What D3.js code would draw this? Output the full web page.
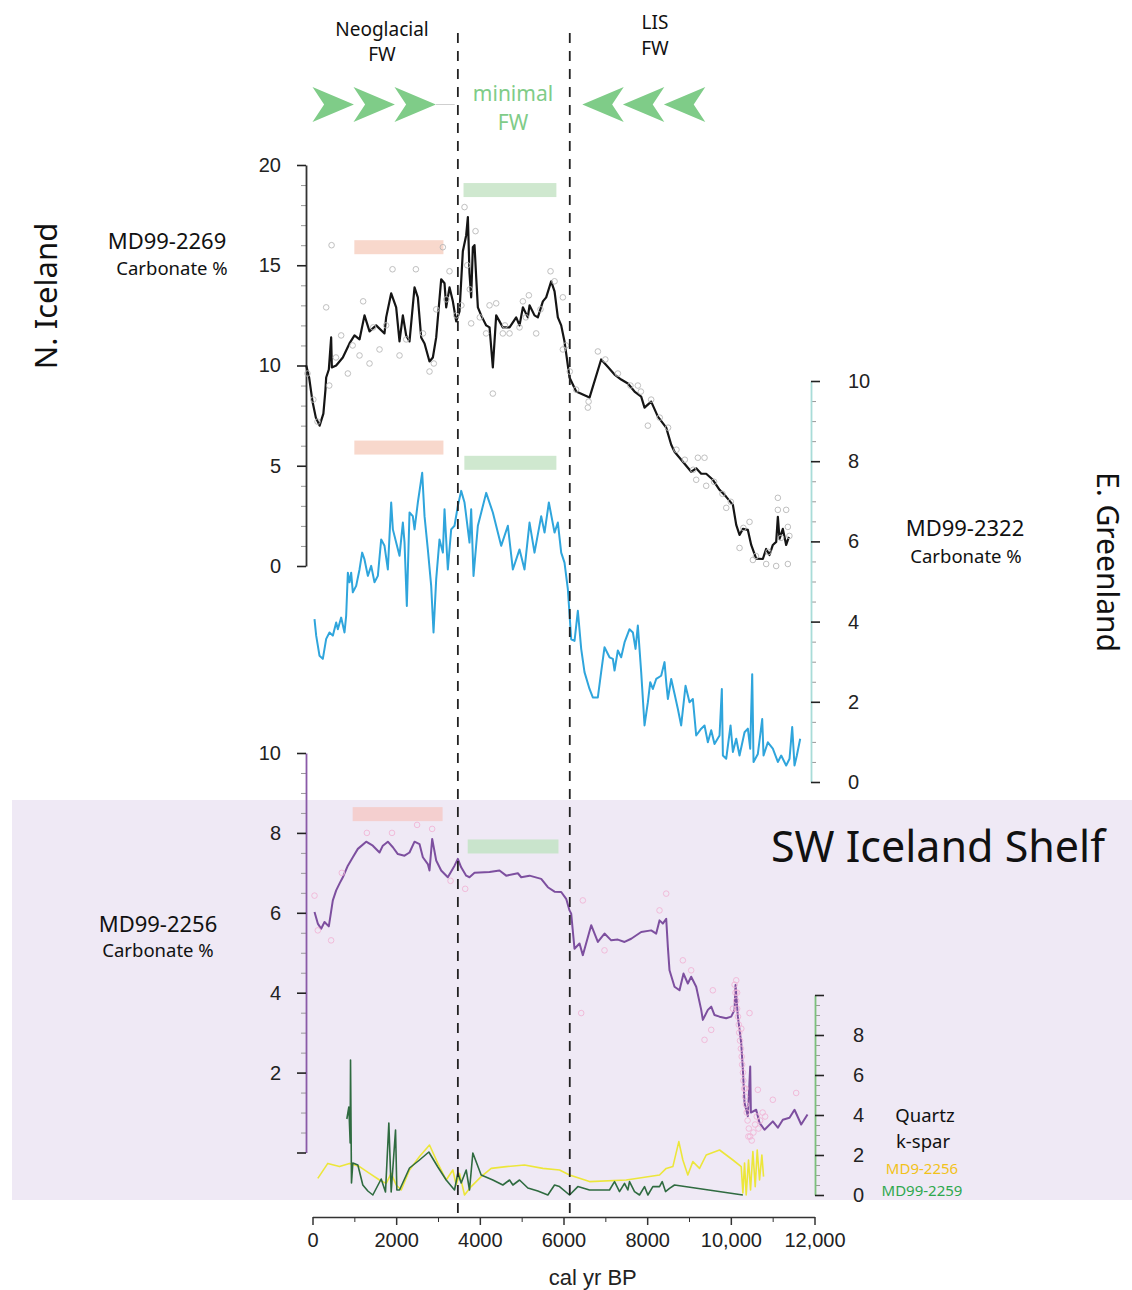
<!DOCTYPE html>
<html><head><meta charset="utf-8">
<script src="https://cdn.jsdelivr.net/npm/d3@7"></script>
<style>body{margin:0;background:#fff}svg{display:block}</style>
</head><body>
<svg id="chart" width="1132" height="1290"></svg>
<script>
// ---- Records: [cal yr BP, value] ----
const nIcelandCarb = [[-150,10.0],[-80,9.4],[0,8.2],[80,7.4],[170,7.0],[260,7.6],[310,8.8],[327,9.4],[390,9.8],[446,11.4],[462,9.9],[566,10.0],[725,10.4],[884,11.1],[1004,11.5],[1124,11.3],[1243,12.5],[1363,11.7],[1522,12.0],[1721,11.6],[1761,12.4],[1881,13.6],[2000,12.9],[2080,11.2],[2160,12.5],[2239,11.5],[2319,11.2],[2439,13.9],[2518,13.4],[2598,11.4],[2678,11.1],[2797,10.2],[2877,10.4],[2957,11.4],[3076,14.3],[3156,14.1],[3196,12.9],[3275,13.9],[3355,13.2],[3435,12.2],[3514,12.7],[3594,15.7],[3674,16.5],[3714,17.4],[3753,14.6],[3793,13.4],[3833,15.9],[3873,16.0],[3913,14.4],[3953,12.9],[4032,12.5],[4152,12.0],[4232,11.9],[4311,9.9],[4391,12.5],[4471,12.2],[4550,11.9],[4710,11.9],[4869,12.4],[4949,12.0],[5029,12.9],[5148,12.4],[5188,13.0],[5307,12.5],[5387,12.4],[5507,13.2],[5586,13.4],[5706,14.2],[5786,13.7],[5865,12.4],[5945,12.0],[6024,11.2],[6144,9.4],[6303,8.7],[6622,8.4],[6900,10.3],[7052,9.95],[7220,9.55],[7379,9.3],[7539,9.1],[7698,8.7],[7857,8.45],[7937,7.9],[8096,8.2],[8256,7.45],[8455,6.9],[8575,6.05],[8654,5.7],[8853,5.2],[9053,4.7],[9172,4.87],[9292,4.6],[9411,4.6],[9571,4.3],[9730,3.8],[9890,3.45],[10049,3.05],[10129,2.05],[10208,1.55],[10288,1.85],[10407,1.8],[10487,1.05],[10606,0.37],[10765,0.35],[10845,0.85],[10925,0.55],[11004,1.05],[11084,1.2],[11124,2.45],[11164,1.35],[11243,1.85],[11323,1.05],[11387,1.45]];

const nIcelandSamples = [[456,16.0],[327,12.9],[1211,13.2],[1363,10.1],[1913,14.8],[2471,14.8],[3116,15.9],[3275,14.7],[3634,17.9],[3897,16.7],[4311,8.6],[5690,14.7],[5786,14.2],[3793,12.1],[5029,13.2],[5172,13.5],[4550,11.6],[4710,11.6],[845,9.6],[685,11.5],[1124,10.5],[1602,10.8],[2080,10.5],[2797,9.7],[2957,12.8],[3435,12.5],[4232,13.0],[4391,13.1],[4949,11.9],[5347,11.6],[5985,10.8],[5985,13.4],[6822,10.7],[6582,7.9],[8017,7.0],[7777,9.0],[8096,8.3],[9212,5.4],[9371,5.4],[9172,4.3],[9411,4.0],[9890,2.9],[10208,0.9],[10447,2.2],[11124,3.4],[11124,2.8],[11323,2.8],[11363,1.95],[11363,0.1],[11084,0.0],[10527,0.3],[10845,0.1],[-120,9.6],[20,8.3],[120,7.2],[400,9.0],[560,10.4],[960,11.0],[1450,11.9],[1760,12.0],[2240,11.3],[2640,11.6],[2900,10.1],[3200,13.3],[3560,13.0],[3700,15.0],[3760,13.8],[4000,12.4],[4150,11.6],[4600,12.0],[5100,12.4],[5450,12.8],[6060,11.0],[6150,9.7],[6300,8.8],[6600,8.2],[7000,10.3],[7300,9.6],[7600,9.0],[7850,8.7],[8300,7.4],[8500,6.9],[8700,5.8],[8900,5.3],[9100,4.8],[9600,4.2],[9800,3.6],[10000,3.2],[10300,1.9],[10600,0.5],[10900,0.7],[11200,1.4],[11400,1.5]];

const eGreenlandCarb = [[48,4.06],[88,3.65],[167,3.15],[247,3.07],[327,3.57],[406,3.73],[486,3.65],[566,3.98],[606,3.81],[685,4.1],[765,3.73],[805,4.15],[845,5.22],[885,4.98],[924,5.22],[964,4.73],[1044,4.89],[1124,5.3],[1187,5.72],[1243,5.55],[1323,5.14],[1403,5.39],[1482,4.98],[1562,5.14],[1642,6.05],[1721,5.89],[1801,5.3],[1881,6.97],[1921,6.3],[2000,5.97],[2080,5.64],[2160,6.47],[2200,5.97],[2255,4.39],[2319,6.72],[2398,6.63],[2439,6.3],[2518,6.97],[2622,7.71],[2678,6.63],[2757,5.8],[2837,4.89],[2893,3.73],[2957,5.06],[3036,6.05],[3116,5.72],[3156,6.8],[3235,5.3],[3315,6.3],[3395,6.39],[3475,6.89],[3554,7.26],[3634,6.97],[3753,5.97],[3793,6.8],[3849,5.14],[3953,6.39],[4152,7.21],[4311,6.72],[4510,5.89],[4670,6.39],[4789,5.3],[4949,5.8],[5068,5.3],[5188,6.47],[5307,5.72],[5467,6.63],[5547,6.22],[5650,6.97],[5786,6.22],[5865,6.47],[5945,5.72],[6024,5.47],[6104,4.81],[6184,3.56],[6264,3.52],[6343,4.27],[6423,3.32],[6502,2.74],[6622,2.32],[6701,2.11],[6821,2.11],[6900,2.74],[6980,3.36],[7100,3.11],[7180,3.07],[7220,2.78],[7299,3.28],[7379,3.11],[7459,3.48],[7578,3.81],[7658,3.73],[7722,3.32],[7777,3.9],[7857,2.74],[7937,1.41],[8017,1.99],[8073,2.49],[8136,2.32],[8216,2.57],[8335,2.65],[8415,2.99],[8455,2.49],[8495,2.07],[8575,2.57],[8654,2.2],[8734,1.82],[8813,1.41],[8917,2.4],[9012,1.99],[9092,2.07],[9172,1.16],[9292,1.33],[9371,1.41],[9451,0.99],[9531,1.29],[9610,0.95],[9730,1.16],[9785,2.32],[9810,0.66],[9890,0.58],[9993,1.41],[10049,0.75],[10129,1.08],[10208,0.66],[10328,1.24],[10407,1.33],[10463,0.83],[10511,2.69],[10543,0.5],[10646,0.7],[10750,1.57],[10782,0.66],[10885,0.99],[11004,0.83],[11124,0.5],[11204,0.66],[11323,0.41],[11403,0.58],[11467,1.37],[11522,0.41],[11578,0.66],[11658,1.08]];

const swIcelandCarb = [[48,6.02],[127,5.73],[207,5.6],[287,5.77],[390,5.66],[486,6.31],[566,6.56],[645,6.73],[725,6.89],[845,7.18],[964,7.39],[1084,7.6],[1283,7.78],[1442,7.68],[1602,7.51],[1681,7.68],[1801,7.78],[1921,7.64],[2040,7.47],[2200,7.43],[2319,7.51],[2439,7.78],[2558,7.72],[2638,7.39],[2757,7.22],[2797,7.06],[2861,7.85],[2957,7.31],[3076,7.06],[3235,6.89],[3395,7.18],[3474,7.35],[3554,7.14],[3674,6.93],[3753,6.89],[3873,7.0],[4231,7.02],[4470,7.06],[4630,6.93],[4909,6.99],[4989,6.89],[5188,6.93],[5467,6.85],[5626,6.64],[5786,6.53],[5945,6.52],[6064,6.35],[6144,6.06],[6184,5.98],[6263,5.1],[6383,5.23],[6462,4.94],[6662,5.69],[6821,5.27],[6980,5.48],[7140,5.31],[7299,5.33],[7459,5.27],[7618,5.35],[7857,5.52],[8096,5.56],[8216,5.48],[8295,5.81],[8375,5.73],[8455,5.85],[8495,5.14],[8534,4.56],[8654,4.15],[8773,4.06],[8869,4.48],[8972,4.23],[9052,4.4],[9172,4.15],[9292,3.57],[9331,3.32],[9451,3.57],[9531,3.65],[9610,3.44],[9730,3.4],[9889,3.36],[10009,3.4],[10089,3.57],[10113,4.19],[10168,3.4],[10248,2.74],[10288,2.07],[10328,1.24],[10407,0.91],[10463,2.15],[10479,1.0],[10606,1.07],[10686,0.74],[10805,0.57],[11004,0.78],[11124,0.62],[11243,0.82],[11403,0.87],[11522,1.07],[11682,0.7],[11833,0.95]];

const swIcelandSamples = [[48,6.43],[127,5.56],[445,5.31],[700,7.0],[1300,8.0],[1900,8.0],[2500,8.2],[2860,8.1],[3300,6.8],[3650,6.6],[6423,3.49],[6462,6.31],[6980,5.06],[8295,6.06],[8455,6.48],[8853,4.81],[9052,4.56],[9570,4.06],[9371,2.82],[9531,3.07],[10129,4.31],[10447,3.49],[10090,4.2],[10110,4.0],[10130,3.8],[10150,3.6],[10170,3.4],[10190,3.2],[10200,3.0],[10220,2.8],[10240,2.6],[10260,2.4],[10270,2.2],[10290,2.0],[10300,1.8],[10320,1.6],[10340,1.4],[10360,1.2],[10380,1.0],[10400,0.8],[10430,0.6],[10460,0.4],[10500,0.3],[10540,0.5],[10580,0.7],[10620,0.9],[10646,1.57],[10660,0.6],[10700,0.8],[10760,1.0],[10820,0.9],[11004,1.32],[11562,1.49],[10050,3.6],[10150,4.0],[10250,3.1],[10350,1.6],[10420,0.4]];

const quartzMD992259 = [[821,3.8],[869,4.4],[901,2.6],[909,6.75],[932,0.6],[964,1.6],[1084,1.5],[1203,0.5],[1323,0.2],[1442,0.0],[1642,0.8],[1745,0.15],[1825,3.6],[1881,0.15],[1985,3.25],[2016,0.25],[2080,0.25],[2319,1.35],[2558,1.75],[2781,2.15],[2996,1.4],[3196,0.75],[3395,0.25],[3474,1.1],[3554,0.6],[3674,1.25],[3753,0.25],[3833,2.1],[4032,1.0],[4311,0.75],[4550,0.5],[4710,0.75],[4790,0.5],[4949,0.75],[5148,0.35],[5387,0.2],[5626,0.0],[5786,0.5],[5905,0.42],[6144,0.0],[6343,0.42],[6622,0.25],[7100,0.25],[7220,0.67],[7339,0.17],[7459,0.58],[7538,0.25],[7578,0.67],[7698,0.17],[7817,0.0],[7937,0.42],[8017,0.0],[8136,0.42],[8295,0.42],[8359,0.67],[8439,0.17],[8534,0.33],[8654,0.5],[10288,0.0]];

const quartzMD992256 = [[127,0.83],[366,1.58],[645,1.42],[885,1.58],[1124,1.42],[1363,1.08],[1602,0.75],[1761,0.58],[1881,1.08],[2000,0.5],[2120,0.25],[2319,1.25],[2558,1.92],[2797,2.5],[2996,1.58],[3196,0.75],[3355,1.25],[3435,0.5],[3514,1.08],[3634,0.0],[3793,0.42],[4032,0.92],[4272,1.33],[4630,1.42],[5068,1.5],[5507,1.33],[5905,1.25],[6144,1.0],[6622,0.67],[7499,0.75],[8295,1.0],[8455,1.33],[8614,1.42],[8757,2.67],[8853,1.75],[8972,1.0],[9092,1.67],[9252,1.33],[9411,2.0],[9730,2.25],[10049,1.75],[10248,1.42],[10288,0.1],[10328,1.6],[10367,0.0],[10423,1.75],[10471,0.25],[10527,2.17],[10583,0.42],[10631,2.25],[10686,0.75],[10742,2.0],[10782,0.92]];

// Shaded intervals: [start yr, end yr, level]
const neoglacialBars = [[1000,3130,15.9],[1000,3130,8.34],[960,3110,8.47]];
const minimalBars = [[3610,5830,18.75],[3630,5830,7.96],[3710,5880,7.66]];
// Boundaries between freshwater regimes
const boundaries = [3475, 6150];
const xTicksMajor = [0,2000,4000,6000,8000,10000,12000];
const xTicksMinor = [1000,3000,5000,7000,9000,11000];

// ---- Scales ----
const svg = d3.select('#chart');
const x = d3.scaleLinear().domain([0,12000]).range([312.5,814.5]);
const yTop = d3.scaleLinear().domain([0,20]).range([566,165]);
const yMid = d3.scaleLinear().domain([0,10]).range([782,381]);
const yBot = d3.scaleLinear().domain([0,10]).range([1152.5,753]);
const yQtz = d3.scaleLinear().domain([0,10]).range([1195,995]);

const FONT = "'Liberation Sans', Arial, sans-serif";
const LFONT = "'Noto Sans', 'Open Sans', sans-serif";

// Shelf background band
svg.append('rect').attr('x',12).attr('y',800).attr('width',1120).attr('height',400).attr('fill','#efe9f5');

// ---- Axes ----
function vAxis(scale, side, xPos, majors, minors, lineColor, labelled, pad) {
  const mk = side === 'left' ? d3.axisLeft : d3.axisRight;
  const gMin = svg.append('g').attr('transform',`translate(${xPos},0)`)
    .call(mk(scale).tickValues(minors).tickSize(5).tickFormat(''));
  gMin.select('.domain').remove();
  gMin.selectAll('line').attr('stroke','#999').attr('stroke-width',1);
  const g = svg.append('g').attr('transform',`translate(${xPos},0)`)
    .call(mk(scale).tickValues(majors).tickSize(9).tickSizeOuter(0).tickPadding(pad)
      .tickFormat(d => labelled.includes(d) ? d : ''));
  g.select('.domain').attr('stroke',lineColor).attr('stroke-width',1.8);
  g.selectAll('line').attr('stroke','#222').attr('stroke-width',1.6);
  g.selectAll('text').attr('font-family',FONT).attr('font-size',20).attr('fill','#222');
  return g;
}
vAxis(yTop,'left',306,[0,5,10,15,20],d3.range(0,20,1).filter(d=>d%5),'#333',[0,5,10,15,20],16);
vAxis(yMid,'right',811,[0,2,4,6,8,10],d3.range(0.5,10,0.5).filter(d=>d%2),'#a8dcd8',[0,2,4,6,8,10],28);
vAxis(yBot,'left',306,[0,2,4,6,8,10],d3.range(0.5,10,0.5).filter(d=>d%2),'#8a5aa8',[2,4,6,8,10],16);
vAxis(yQtz,'right',815,[0,2,4,6,8,10],d3.range(0.5,10,0.5).filter(d=>d%2),'#7cbf7c',[0,2,4,6,8],29);

// Time axis
const gxm = svg.append('g').attr('transform','translate(0,1217)')
  .call(d3.axisBottom(x).tickValues(xTicksMinor).tickSize(5).tickFormat(''));
gxm.select('.domain').remove();
gxm.selectAll('line').attr('stroke','#333');
const gx = svg.append('g').attr('transform','translate(0,1217)')
  .call(d3.axisBottom(x).tickValues(xTicksMajor).tickSize(8).tickSizeOuter(0).tickPadding(8)
    .tickFormat(d => d >= 10000 ? d3.format(',')(d) : d));
gx.select('.domain').attr('stroke','#333').attr('stroke-width',1.6);
gx.selectAll('line').attr('stroke','#333').attr('stroke-width',1.5);
gx.selectAll('text').attr('font-family',FONT).attr('font-size',20).attr('fill','#222');
svg.append('text').attr('x',x(6700)).attr('y',1285).attr('text-anchor','middle')
  .attr('font-family',FONT).attr('font-size',22).attr('fill','#222').text('cal yr BP');

// ---- Interval bars ----
function bars(data, scale, color) {
  svg.append('g').selectAll('rect').data(data).join('rect')
    .attr('x',d=>x(d[0])).attr('width',d=>x(d[1])-x(d[0]))
    .attr('y',d=>scale(d[2])-7).attr('height',14).attr('fill',color);
}
bars([neoglacialBars[0]], yTop, '#f8d8cc');
bars([neoglacialBars[1]], yMid, '#f8d8cc');
bars([neoglacialBars[2]], yBot, '#f4cfcf');
bars([minimalBars[0]], yTop, '#cfe8cf');
bars([minimalBars[1]], yMid, '#cfe8cf');
bars([minimalBars[2]], yBot, '#c9e4cc');

// ---- Series ----
function series(data, scale, color, w) {
  svg.append('path').datum(data)
    .attr('d', d3.line().x(d=>x(d[0])).y(d=>scale(d[1])))
    .attr('fill','none').attr('stroke',color).attr('stroke-width',w).attr('stroke-linejoin','round');
}
function samples(data, scale, color, r) {
  svg.append('g').selectAll('circle').data(data).join('circle')
    .attr('cx',d=>x(d[0])).attr('cy',d=>scale(d[1])).attr('r',r)
    .attr('fill','none').attr('stroke',color).attr('stroke-width',0.9);
}
series(nIcelandCarb, yTop, '#151515', 2.2);
samples(nIcelandSamples, yTop, '#b8b8b8', 2.8);
series(eGreenlandCarb, yMid, '#2fa5dc', 2);
series(swIcelandCarb, yBot, '#7d4f9f', 2);
samples(swIcelandSamples, yBot, '#f0b6d6', 2.8);
series(quartzMD992256, yQtz, '#ece63a', 1.6);
series(quartzMD992259, yQtz, '#2f6b40', 1.6);

// ---- Regime boundaries ----
svg.append('g').selectAll('line').data(boundaries).join('line')
  .attr('x1',d=>x(d)).attr('x2',d=>x(d)).attr('y1',33).attr('y2',1217)
  .attr('stroke','#222').attr('stroke-width',1.8).attr('stroke-dasharray','10,8');

// ---- Freshwater arrows ----
const arrowColor = '#7fcc88';
const arrowsIn = [0, 980, 1960];      // Neoglacial, pointing toward younger boundary
const arrowsOut = [6450, 7420, 8400]; // LIS, pointing toward older boundary
const arrowW = 990;
function arrow(x0, x1, dir) {
  // swallow-tail arrowhead between x0 (back) and x1 (tip)
  const back = dir > 0 ? x(x0) : x(x1), tip = dir > 0 ? x(x1) : x(x0);
  const notch = back + (tip - back) * 0.28;
  return `M${back},87 L${tip},104.5 L${back},122 L${notch},104.5 Z`;
}
svg.append('g').selectAll('path').data(arrowsIn).join('path')
  .attr('d',d=>arrow(d, d+arrowW, 1)).attr('fill',arrowColor);
svg.append('g').selectAll('path').data(arrowsOut).join('path')
  .attr('d',d=>arrow(d, d+arrowW, -1)).attr('fill',arrowColor);
svg.append('line').attr('x1',x(2950)).attr('x2',x(3400)).attr('y1',104.5).attr('y2',104.5)
  .attr('stroke','#cfcfcf').attr('stroke-width',1);

// ---- Annotations ----
function label(txt, xp, yp, size, color, anchor) {
  return svg.append('text').attr('x',xp).attr('y',yp).attr('text-anchor',anchor||'middle')
    .attr('font-family',LFONT).attr('font-size',size).attr('fill',color||'#111').text(txt);
}
label('Neoglacial', 382, 36, 19);
label('FW', 382, 61, 19);
label('LIS', 655, 29, 19);
label('FW', 655, 55, 19);
label('minimal', 513, 101, 21, '#7fcc88');
label('FW', 513, 130, 21, '#7fcc88');

label('MD99-2269', 167, 249, 22);
label('Carbonate %', 172, 275, 18.5);
label('MD99-2322', 965, 536, 22);
label('Carbonate %', 966, 563, 18.5);
label('MD99-2256', 158, 932, 22);
label('Carbonate %', 158, 957, 18.5);
label('SW Iceland Shelf', 938, 862, 43);
label('Quartz', 925, 1122, 18.5);
label('k-spar', 923, 1148, 18.5);
label('MD9-2256', 922, 1174, 15, '#f2c21a');
label('MD99-2259', 922, 1196, 15, '#2ea84e');

svg.append('text').attr('transform','translate(57,296) rotate(-90)').attr('text-anchor','middle')
  .attr('font-family',LFONT).attr('font-size',31).attr('fill','#111').text('N. Iceland');
svg.append('text').attr('transform','translate(1097,562) rotate(90)').attr('text-anchor','middle')
  .attr('font-family',LFONT).attr('font-size',30).attr('fill','#111').text('E. Greenland');
</script>
</body></html>
